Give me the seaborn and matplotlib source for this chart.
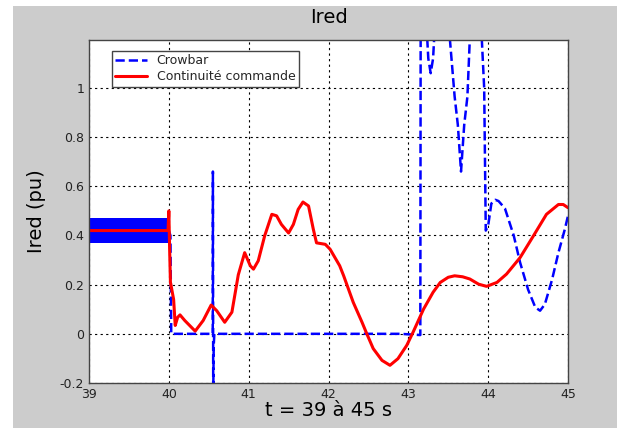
import numpy as np
import seaborn as sns
import matplotlib
matplotlib.use('Agg')
import matplotlib.pyplot as plt
from matplotlib.patches import Rectangle

# Ired, t = 39 to 45 s

# blue band before the fault (fast ripple envelope)
band_t = [39.0, 40.0]
band_lo = [0.37, 0.37]
band_hi = [0.47, 0.47]

# Crowbar
crow_t = [40.00, 40.02, 40.03, 40.55, 40.552, 40.556, 40.562, 40.57,
          42.9, 43.15, 43.155, 43.22, 43.25, 43.28, 43.31, 43.34, 43.45,
          43.52, 43.58, 43.62, 43.66, 43.70, 43.74, 43.77, 43.85,
          43.92, 43.95, 43.97, 44.0, 44.04, 44.09, 44.13, 44.21, 44.32,
          44.40, 44.50, 44.59, 44.65, 44.71, 44.80, 44.88, 44.96, 45.0]
crow_v = [0.42, 0.40, 0.0, 0.0, 0.66, -0.25, -0.05, 0.0,
          0.0, -0.005, 1.4, 1.3, 1.12, 1.06, 1.12, 1.3, 1.4,
          1.2, 0.965, 0.85, 0.66, 0.85, 0.965, 1.2, 1.4,
          1.2, 1.0, 0.42, 0.44, 0.53, 0.545, 0.54, 0.51, 0.40,
          0.29, 0.18, 0.108, 0.094, 0.12, 0.22, 0.33, 0.425, 0.48]

# Continuite commande
red_t = [39.0, 39.99, 40.0, 40.01, 40.02, 40.06, 40.08, 40.11, 40.14,
         40.20, 40.33, 40.43, 40.53, 40.60, 40.70, 40.79, 40.87, 40.95,
         41.02, 41.06, 41.12, 41.20, 41.29, 41.35, 41.41, 41.50, 41.56,
         41.62, 41.68, 41.75, 41.81, 41.85, 41.96, 42.02, 42.14, 42.19,
         42.31, 42.42, 42.48, 42.56, 42.67, 42.77, 42.87, 42.98, 43.06,
         43.19, 43.31, 43.40, 43.50, 43.58, 43.68, 43.77, 43.88, 43.98,
         44.11, 44.23, 44.40, 44.57, 44.73, 44.88, 44.94, 45.0]
red_v = [0.42, 0.42, 0.50, 0.344, 0.21, 0.14, 0.034, 0.067, 0.077,
         0.054, 0.011, 0.054, 0.117, 0.094, 0.047, 0.088, 0.24, 0.33,
         0.277, 0.263, 0.297, 0.398, 0.486, 0.48, 0.445, 0.41, 0.445,
         0.506, 0.536, 0.52, 0.425, 0.37, 0.364, 0.344, 0.277, 0.236,
         0.128, 0.047, 0.0, -0.06, -0.108, -0.128, -0.101, -0.047, 0.007,
         0.10, 0.169, 0.209, 0.23, 0.236, 0.232, 0.223, 0.202, 0.193,
         0.209, 0.243, 0.31, 0.40, 0.486, 0.526, 0.526, 0.513]

x_ticks = [39, 40, 41, 42, 43, 44, 45]
y_ticks = [-0.2, 0, 0.2, 0.4, 0.6, 0.8, 1]
y_labels = ['-0.2', '0', '0.2', '0.4', '0.6', '0.8', '1']

sns.set_style('white')
plt.rcParams['font.family'] = ['DejaVu Sans']

fig = plt.figure(figsize=(6.17, 4.28), dpi=100)
fig.patch.set_facecolor('white')
# grey MATLAB-style figure area
fig.patches.append(Rectangle((13 / 617, 0), 1, 1 - 6 / 428,
                             transform=fig.transFigure,
                             facecolor='#cccccc', edgecolor='none', zorder=-10))

ax = fig.add_axes([89 / 617, 1 - 383 / 428, 479 / 617, 343 / 428])
ax.set_facecolor('white')

ax.fill_between(band_t, band_lo, band_hi, color='blue', lw=0)
sns.lineplot(x=crow_t, y=crow_v, ax=ax, color='blue', linestyle='--',
             lw=1.8, estimator=None, sort=False, label='Crowbar')
sns.lineplot(x=red_t, y=red_v, ax=ax, color='red', lw=2.2,
             estimator=None, sort=False, label='Continuité commande')

ax.set_xlim(39, 45)
ax.set_ylim(-0.2, 1.195)
ax.set_xticks(x_ticks)
ax.set_yticks(y_ticks)
ax.set_yticklabels(y_labels)
ax.tick_params(direction='in', length=3, labelsize=9, colors='#222222')
ax.grid(True, color='black', linestyle=(0, (2, 3)), lw=0.8)
for s in ax.spines.values():
    s.set_color('#444444')
    s.set_linewidth(1)

ax.set_title('Ired', fontsize=14, pad=12, color='black')
ax.set_xlabel('t = 39 à 45 s', fontsize=14, labelpad=0, color='black')
ax.set_ylabel('Ired (pu)', fontsize=14, labelpad=10, color='black')

ax.legend(loc='upper left', bbox_to_anchor=(0.047, 0.969), fontsize=9,
          fancybox=False, edgecolor='#444444', framealpha=1,
          borderaxespad=0, handlelength=2.5, borderpad=0.3,
          labelspacing=0.2)

fig.savefig('out.png', dpi=100)
